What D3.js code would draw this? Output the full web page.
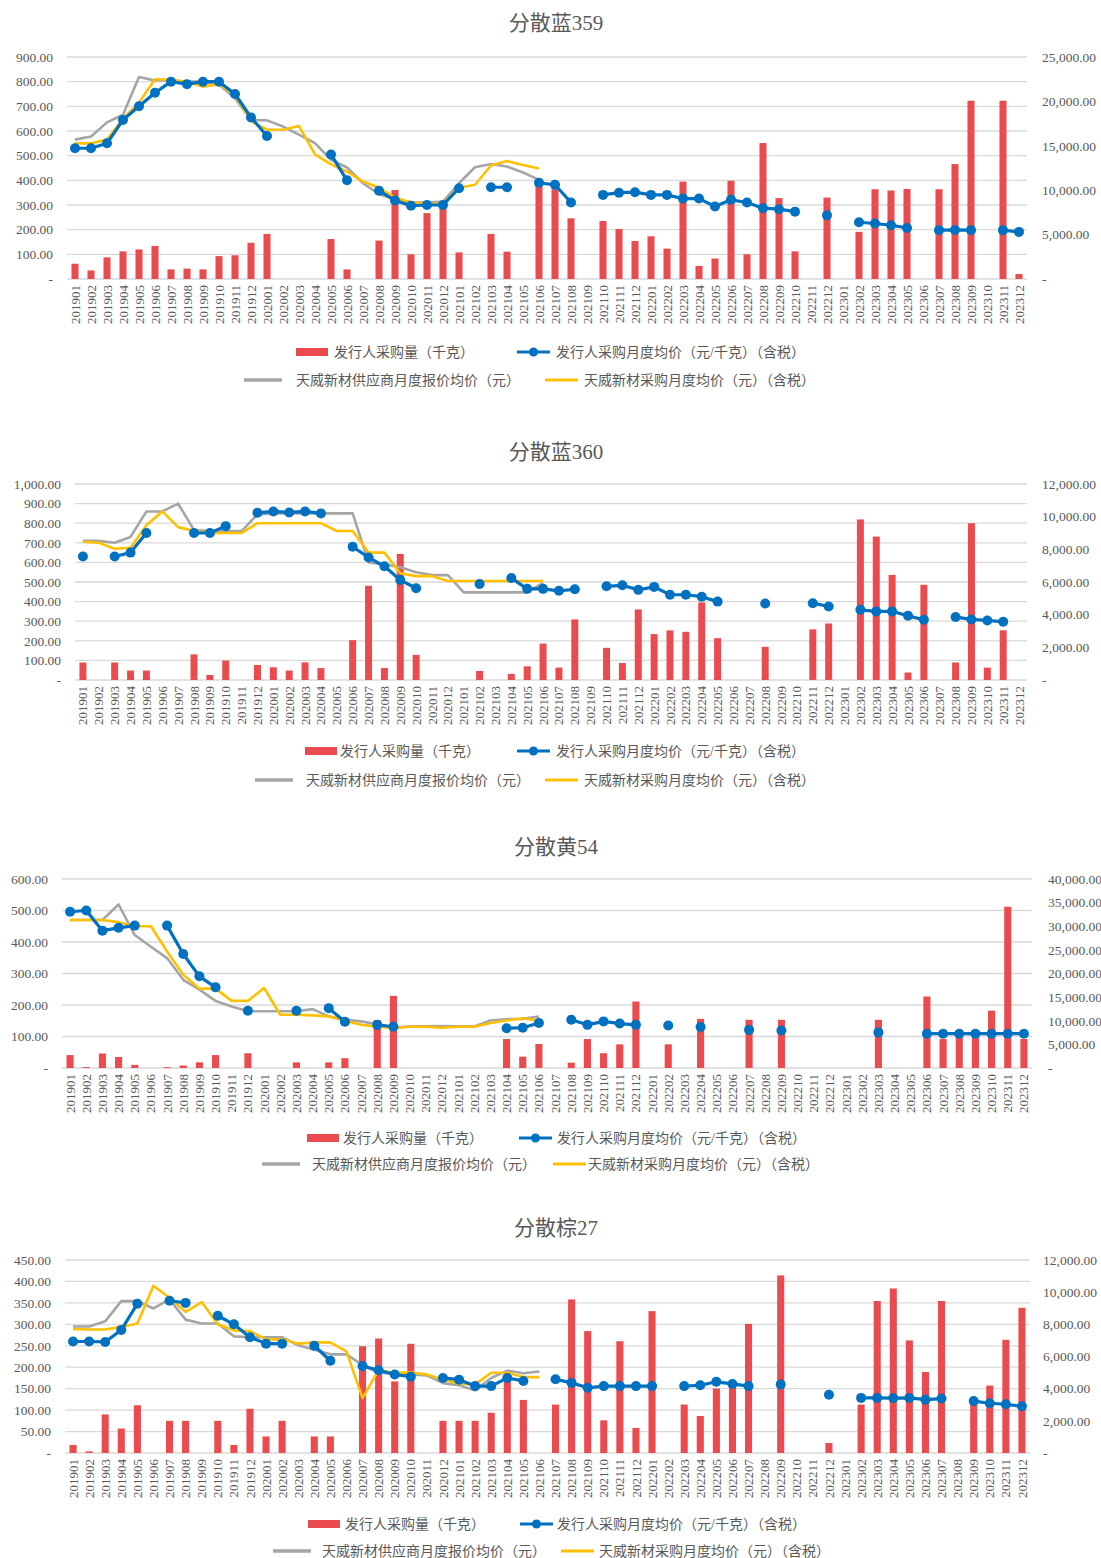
<!DOCTYPE html>
<html><head><meta charset="utf-8">
<script src="https://cdn.jsdelivr.net/npm/d3@7"></script>
<style>body{margin:0;background:#fff} svg{display:block}</style>
</head><body>
<svg id="c" width="1101" height="1558"></svg>
<script>
// ---------- DATA ----------
const months = ["201901","201902","201903","201904","201905","201906","201907","201908","201909","201910","201911","201912",
"202001","202002","202003","202004","202005","202006","202007","202008","202009","202010","202011","202012",
"202101","202102","202103","202104","202105","202106","202107","202108","202109","202110","202111","202112",
"202201","202202","202203","202204","202205","202206","202207","202208","202209","202210","202211","202212",
"202301","202302","202303","202304","202305","202306","202307","202308","202309","202310","202311","202312"];

const titles = ["分散蓝359","分散蓝360","分散黄54","分散棕27"];
const seriesNames = ["发行人采购量（千克）","发行人采购月度均价（元/千克）（含税）","天威新材供应商月度报价均价（元）","天威新材采购月度均价（元）（含税）"];

// Panel 1: 分散蓝359
const p1Qty = [1720,970,2440,3110,3330,3720,1080,1170,1080,2580,2670,4080,
5080,null,null,null,4500,1080,null,4330,10030,2780,7420,8400,
3000,null,5080,3080,null,10780,10110,6830,null,6530,5640,4280,
4810,3420,10970,1470,2310,11060,2780,15310,9110,3110,null,9170,
null,5310,10110,9970,10140,null,10110,12940,20080,null,20080,560];
const p1Price = [530,530,550,645,700,755,800,790,800,800,750,655,
580,null,null,null,505,400,null,358,318,297,300,300,
368,null,372,372,null,390,382,310,null,341,350,352,
341,341,326,326,294,321,310,287,283,273,null,258,
null,230,225,218,207,null,198,199,198,null,198,191];
const p1Quote = [565,578,635,666,819,805,805,800,800,788,733,645,643,618,585,551,483,452,388,344,323,311,310,314,388,453,466,456,432,402];
const p1Buy = [550,550,565,650,715,810,808,800,780,790,745,640,605,605,620,505,465,435,395,370,330,310,305,305,370,382,460,478,462,448];

// Panel 2: 分散蓝360
const p2Qty = [1070,null,1070,580,580,null,null,1570,310,1190,null,920,
780,580,1080,730,null,2440,5770,730,7720,1540,null,null,
null,550,null,370,840,2230,760,3710,null,1970,1040,4320,
2810,3040,2950,4750,2560,null,null,2030,null,null,3100,3460,
null,9830,8780,6430,460,5830,null,1070,9600,760,3040,null];
const p2Price = [630,null,630,650,750,null,null,750,750,785,null,853,
860,855,860,850,null,680,625,580,510,468,null,null,
null,490,null,520,465,465,455,463,null,478,483,460,
475,435,435,425,400,null,null,390,null,null,392,375,
null,358,350,350,328,307,null,321,309,304,297,null];
const p2Quote = [710,710,700,730,860,860,900,765,760,760,760,845,850,850,850,850,850,850,600,590,575,550,535,535,447,447,447,447,447,495];
const p2Buy = [705,700,670,675,790,860,780,760,750,750,750,800,800,800,800,800,760,760,650,650,545,530,530,505,505,505,505,505,505,505];

// Panel 3: 分散黄54
const p3Qty = [2730,200,3070,2330,670,null,200,530,1200,2730,null,3130,
null,null,1200,null,1200,2070,null,10130,15270,null,null,null,
null,null,null,6130,2400,5070,null,1130,6130,3130,5000,14070,
null,5000,null,10400,null,null,10200,null,10200,null,null,null,
null,null,10200,null,null,15130,6130,6670,6530,12130,34130,6130];
const p3Price = [496,500,436,445,452,null,452,362,291,256,null,182,
null,null,182,null,190,147,null,137,131,null,null,null,
null,null,null,126,128,143,null,153,137,148,141,137,
null,135,null,130,null,null,121,null,119,null,null,null,
null,null,113,null,null,109,109,109,109,109,109,109];
const p3Quote = [470,470,470,519,422,385,349,280,249,213,195,180,180,180,180,187,164,153,148,139,128,132,132,133,132,132,151,155,156,163];
const p3Buy = [470,470,470,463,450,450,370,296,252,252,213,213,254,169,169,167,164,150,137,132,126,131,131,128,131,131,143,151,158,150];

// Panel 4: 分散棕27
const p4Qty = [500,100,2400,1520,2970,null,2000,2000,null,2000,500,2750,
1030,2000,null,1030,1030,null,6640,7120,4450,6790,null,2000,
2000,2000,2500,5040,3300,null,3010,9550,7580,2030,6950,1560,
8820,null,3010,2300,4010,4300,8030,null,11040,null,null,620,
null,3010,9450,10230,7000,5040,9450,null,3200,4190,7040,9030];
const p4Price = [260,260,259,287,348,null,355,350,null,320,300,270,
255,255,null,250,215,null,203,193,183,178,null,175,
171,156,156,175,168,null,172,163.5,152,156,156,156,
156,null,156,158,166,161,156,null,160,null,null,136,
null,128.5,128.5,128,128.5,124.5,127,null,121,116,113.6,109];
const p4Quote = [295,295,307,354,354,337,358,311,302,302,272,270,270,270,251,241,230,230,205,187,185,183,181,163,158,146,175,192,186,190];
const p4Buy = [289,288,288,294,302,390,362,329,352,300,286,284,265,265,255,258,258,237,128,193,187,188,183,171,162,160,187,187,177,177];

// ---------- STYLE / LAYOUT ----------
const FONT = "Liberation Serif, DejaVu Serif, Noto Sans CJK SC, serif";
const TXT = "#595959";
const C_BAR = "#EA4B4E", C_BLUE = "#0070C0", C_GRAY = "#A5A5A5", C_YEL = "#FFC000", C_GRID = "#D9D9D9";

const panels = [
  {title:titles[0], qty:p1Qty, price:p1Price, quote:p1Quote, buy:p1Buy,
   titleY:23, x0:67, x1:1027, yTop:57, yBot:279, lMax:900, lStep:100, rMax:25000, rStep:5000, lLab:53, rLab:1042,
   leg:{r1:352, r2:380, red:296, t1:334, blue:517, t2:556, gray:244, t3:296, yel:545, t4:584}},
  {title:titles[1], qty:p2Qty, price:p2Price, quote:p2Quote, buy:p2Buy,
   titleY:452, x0:75, x1:1027, yTop:484, yBot:680, lMax:1000, lStep:100, rMax:12000, rStep:2000, lLab:61, rLab:1042,
   leg:{r1:751, r2:780, red:305, t1:340, blue:517, t2:556, gray:255, t3:306, yel:545, t4:584}},
  {title:titles[2], qty:p3Qty, price:p3Price, quote:p3Quote, buy:p3Buy,
   titleY:847, x0:62, x1:1032, yTop:879, yBot:1068, lMax:600, lStep:100, rMax:40000, rStep:5000, lLab:48, rLab:1048,
   leg:{r1:1138, r2:1164, red:307, t1:343, blue:519, t2:557, gray:262, t3:312, yel:553, t4:588}},
  {title:titles[3], qty:p4Qty, price:p4Price, quote:p4Quote, buy:p4Buy,
   titleY:1228, x0:65, x1:1030, yTop:1260, yBot:1453, lMax:450, lStep:50, rMax:12000, rStep:2000, lLab:51, rLab:1043,
   leg:{r1:1524, r2:1551, red:308, t1:345, blue:520, t2:557, gray:273, t3:322, yel:561, t4:599}}
];

const svg = d3.select("#c").style("font-family", FONT);
const fmt = v => v === 0 ? "-" : d3.format(",.2f")(v);

panels.forEach(p => {
  const g = svg.append("g");
  const x = d3.scaleBand().domain(months).range([p.x0, p.x1]).padding(0);
  const xb = d3.scaleBand().domain(months).range([p.x0, p.x1]).paddingInner(0.56).paddingOuter(0.28);
  const cx = m => x(m) + x.bandwidth() / 2;
  const yL = d3.scaleLinear().domain([0, p.lMax]).range([p.yBot, p.yTop]);
  const yR = d3.scaleLinear().domain([0, p.rMax]).range([p.yBot, p.yTop]);
  const lTicks = d3.range(0, p.lMax + 1e-6, p.lStep);
  const rTicks = d3.range(0, p.rMax + 1e-6, p.rStep);

  // title
  g.append("text").attr("x", 556).attr("y", p.titleY).attr("text-anchor", "middle")
    .attr("dominant-baseline", "central").attr("font-size", 21).attr("fill", TXT)
    .style("font-family", FONT).text(p.title);

  // gridlines
  g.append("g").selectAll("line").data(lTicks).join("line")
    .attr("x1", p.x0).attr("x2", p.x1).attr("y1", d => yL(d)).attr("y2", d => yL(d))
    .attr("stroke", C_GRID).attr("stroke-width", 1.3);

  // left axis
  const la = g.append("g").attr("transform", `translate(${p.lLab},0)`)
    .call(d3.axisLeft(yL).tickValues(lTicks).tickSize(0).tickPadding(0).tickFormat(fmt));
  la.select(".domain").remove();
  la.attr("font-family", null);
  la.selectAll("text").attr("font-size", 13.5).attr("fill", TXT).style("font-family", FONT);

  // right axis
  const ra = g.append("g").attr("transform", `translate(${p.rLab},0)`)
    .call(d3.axisRight(yR).tickValues(rTicks).tickSize(0).tickPadding(0).tickFormat(fmt));
  ra.select(".domain").remove();
  ra.attr("font-family", null);
  ra.selectAll("text").attr("font-size", 13.5).attr("fill", TXT).style("font-family", FONT);

  // x axis
  const xa = g.append("g").attr("transform", `translate(0,${p.yBot})`)
    .call(d3.axisBottom(x).tickSize(0).tickPadding(0));
  xa.select(".domain").remove();
  xa.attr("font-family", null);
  xa.selectAll("text").attr("font-size", 13).attr("fill", TXT).style("font-family", FONT)
    .attr("transform", "rotate(-90)").attr("text-anchor", "end")
    .attr("x", -6).attr("y", 0).attr("dy", "0.35em");

  // bars
  const qd = months.map((m, i) => ({m, v: p.qty[i]})).filter(d => d.v != null);
  g.append("g").selectAll("rect").data(qd).join("rect")
    .attr("x", d => xb(d.m)).attr("width", xb.bandwidth())
    .attr("y", d => yR(d.v)).attr("height", d => yR(0) - yR(d.v)).attr("fill", C_BAR);

  const line = d3.line().defined(d => d.v != null).x(d => cx(d.m)).y(d => yL(d.v));
  const mk = arr => arr.map((v, i) => ({m: months[i], v}));

  g.append("path").datum(mk(p.quote)).attr("d", line).attr("fill", "none")
    .attr("stroke", C_GRAY).attr("stroke-width", 2.6).attr("stroke-linejoin", "round");
  g.append("path").datum(mk(p.buy)).attr("d", line).attr("fill", "none")
    .attr("stroke", C_YEL).attr("stroke-width", 2.6).attr("stroke-linejoin", "round");
  const pd = mk(p.price);
  g.append("path").datum(pd).attr("d", line).attr("fill", "none")
    .attr("stroke", C_BLUE).attr("stroke-width", 3.2).attr("stroke-linejoin", "round");
  g.append("g").selectAll("circle").data(pd.filter(d => d.v != null)).join("circle")
    .attr("cx", d => cx(d.m)).attr("cy", d => yL(d.v)).attr("r", 5).attr("fill", C_BLUE);

  // legend
  const L = p.leg;
  const lg = g.append("g").attr("font-size", 14).attr("fill", TXT).style("font-family", FONT);
  lg.append("rect").attr("x", L.red).attr("y", L.r1 - 4).attr("width", 32).attr("height", 8).attr("fill", C_BAR);
  lg.append("text").attr("x", L.t1).attr("y", L.r1).attr("dominant-baseline", "central").text(seriesNames[0]);
  lg.append("line").attr("x1", L.blue).attr("x2", L.blue + 33).attr("y1", L.r1).attr("y2", L.r1)
    .attr("stroke", C_BLUE).attr("stroke-width", 3.2);
  lg.append("circle").attr("cx", L.blue + 16.5).attr("cy", L.r1).attr("r", 4.5).attr("fill", C_BLUE);
  lg.append("text").attr("x", L.t2).attr("y", L.r1).attr("dominant-baseline", "central").text(seriesNames[1]);
  lg.append("line").attr("x1", L.gray).attr("x2", L.gray + 38).attr("y1", L.r2).attr("y2", L.r2)
    .attr("stroke", C_GRAY).attr("stroke-width", 3.5);
  lg.append("text").attr("x", L.t3).attr("y", L.r2).attr("dominant-baseline", "central").text(seriesNames[2]);
  lg.append("line").attr("x1", L.yel).attr("x2", L.yel + 33).attr("y1", L.r2).attr("y2", L.r2)
    .attr("stroke", C_YEL).attr("stroke-width", 3);
  lg.append("text").attr("x", L.t4).attr("y", L.r2).attr("dominant-baseline", "central").text(seriesNames[3]);
});
</script>
</body></html>
